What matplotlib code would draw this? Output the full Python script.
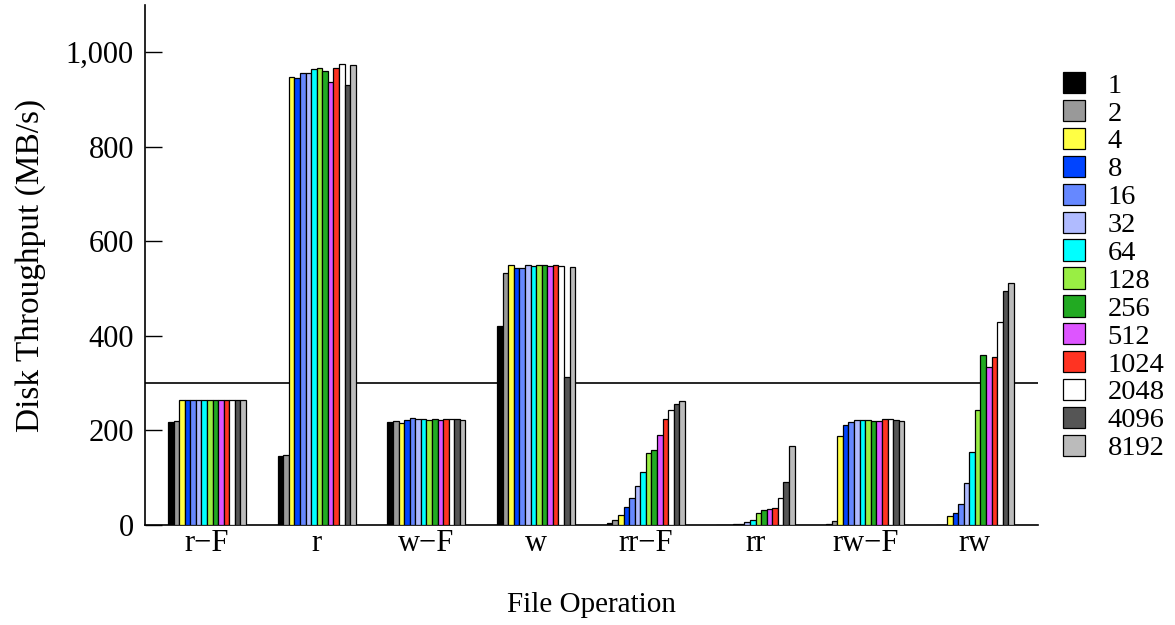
import matplotlib
matplotlib.use("Agg")
import matplotlib.pyplot as plt
import matplotlib.ticker as mticker
from matplotlib.patches import Patch
import numpy as np

plt.rcParams['font.family'] = ['Liberation Serif', 'DejaVu Serif']

operations = ["r\u2212F", "r", "w\u2212F", "w", "rr\u2212F", "rr", "rw\u2212F", "rw"]
sizes = ["1", "2", "4", "8", "16", "32", "64", "128", "256", "512", "1024", "2048", "4096", "8192"]
colors = ["#000000", "#999999", "#ffff44", "#0044ff", "#6688ff", "#b0bbff", "#00ffff",
          "#99ee44", "#22aa22", "#dd55ff", "#ff3322", "#ffffff", "#555555", "#bbbbbb"]

# throughput (MB/s) per operation, one value per block size
thr_rF  = [217, 219, 265, 265, 265, 265, 265, 265, 265, 265, 265, 265, 265, 265]
thr_r   = [146, 148, 947, 945, 957, 957, 965, 966, 960, 938, 966, 975, 931, 973]
thr_wF  = [217, 221, 215, 222, 227, 225, 225, 223, 224, 222, 224, 225, 224, 222]
thr_w   = [421, 534, 549, 544, 544, 551, 548, 550, 549, 547, 550, 547, 314, 545]
thr_rrF = [4, 10, 22, 38, 57, 82, 113, 153, 159, 191, 224, 244, 256, 263]
thr_rr  = [1, 1, 1, 2, 3, 6, 10, 25, 32, 34, 37, 57, 92, 167]
thr_rwF = [3, 8, 188, 212, 218, 222, 222, 222, 221, 219, 224, 224, 222, 221]
thr_rw  = [1, 1, 18, 26, 45, 88, 155, 244, 360, 335, 355, 429, 496, 512]
reference_level = 300

data = np.array([thr_rF, thr_r, thr_wF, thr_w, thr_rrF, thr_rr, thr_rwF, thr_rw])

fig = plt.figure(figsize=(11.75, 6.25), dpi=100)
ax = fig.add_axes([0.1234, 0.16, 0.76, 0.832])

n = len(sizes)
w = 0.0508
x = np.arange(len(operations))
for j in range(n):
    ax.bar(x + (j - (n - 1) / 2) * w, data[:, j], width=w, color=colors[j],
           edgecolor="black", linewidth=0.9, zorder=3)

ax.axhline(reference_level, color="black", linewidth=1.2, zorder=2)

ax.set_xlim(-0.565, 7.575)
ax.set_ylim(0, 1100)
ax.set_xticks(x)
ax.set_xticklabels(operations)
ax.set_yticks([0, 200, 400, 600, 800, 1000])
ax.yaxis.set_major_formatter(mticker.FuncFormatter(lambda v, p: f"{int(v):,}"))
ax.tick_params(axis="y", direction="in", length=12, width=1, labelsize=22, pad=8)
ax.tick_params(axis="x", length=0, labelsize=22, pad=3)
for s in ["top", "right"]:
    ax.spines[s].set_visible(False)
for s in ["left", "bottom"]:
    ax.spines[s].set_linewidth(1.2)

ax.set_ylabel("Disk Throughput (MB/s)", fontsize=24, labelpad=14)
ax.set_xlabel("File Operation", fontsize=21, labelpad=24)

handles = [Patch(facecolor=c, edgecolor="black", linewidth=0.9) for c in colors]
ax.legend(handles, sizes, loc="upper left", bbox_to_anchor=(1.015, 0.893),
          frameon=False, fontsize=20.5, handlelength=0.78, handleheight=0.78,
          handletextpad=0.8, labelspacing=0.045, borderaxespad=0)

fig.savefig("out.png", dpi=100)
